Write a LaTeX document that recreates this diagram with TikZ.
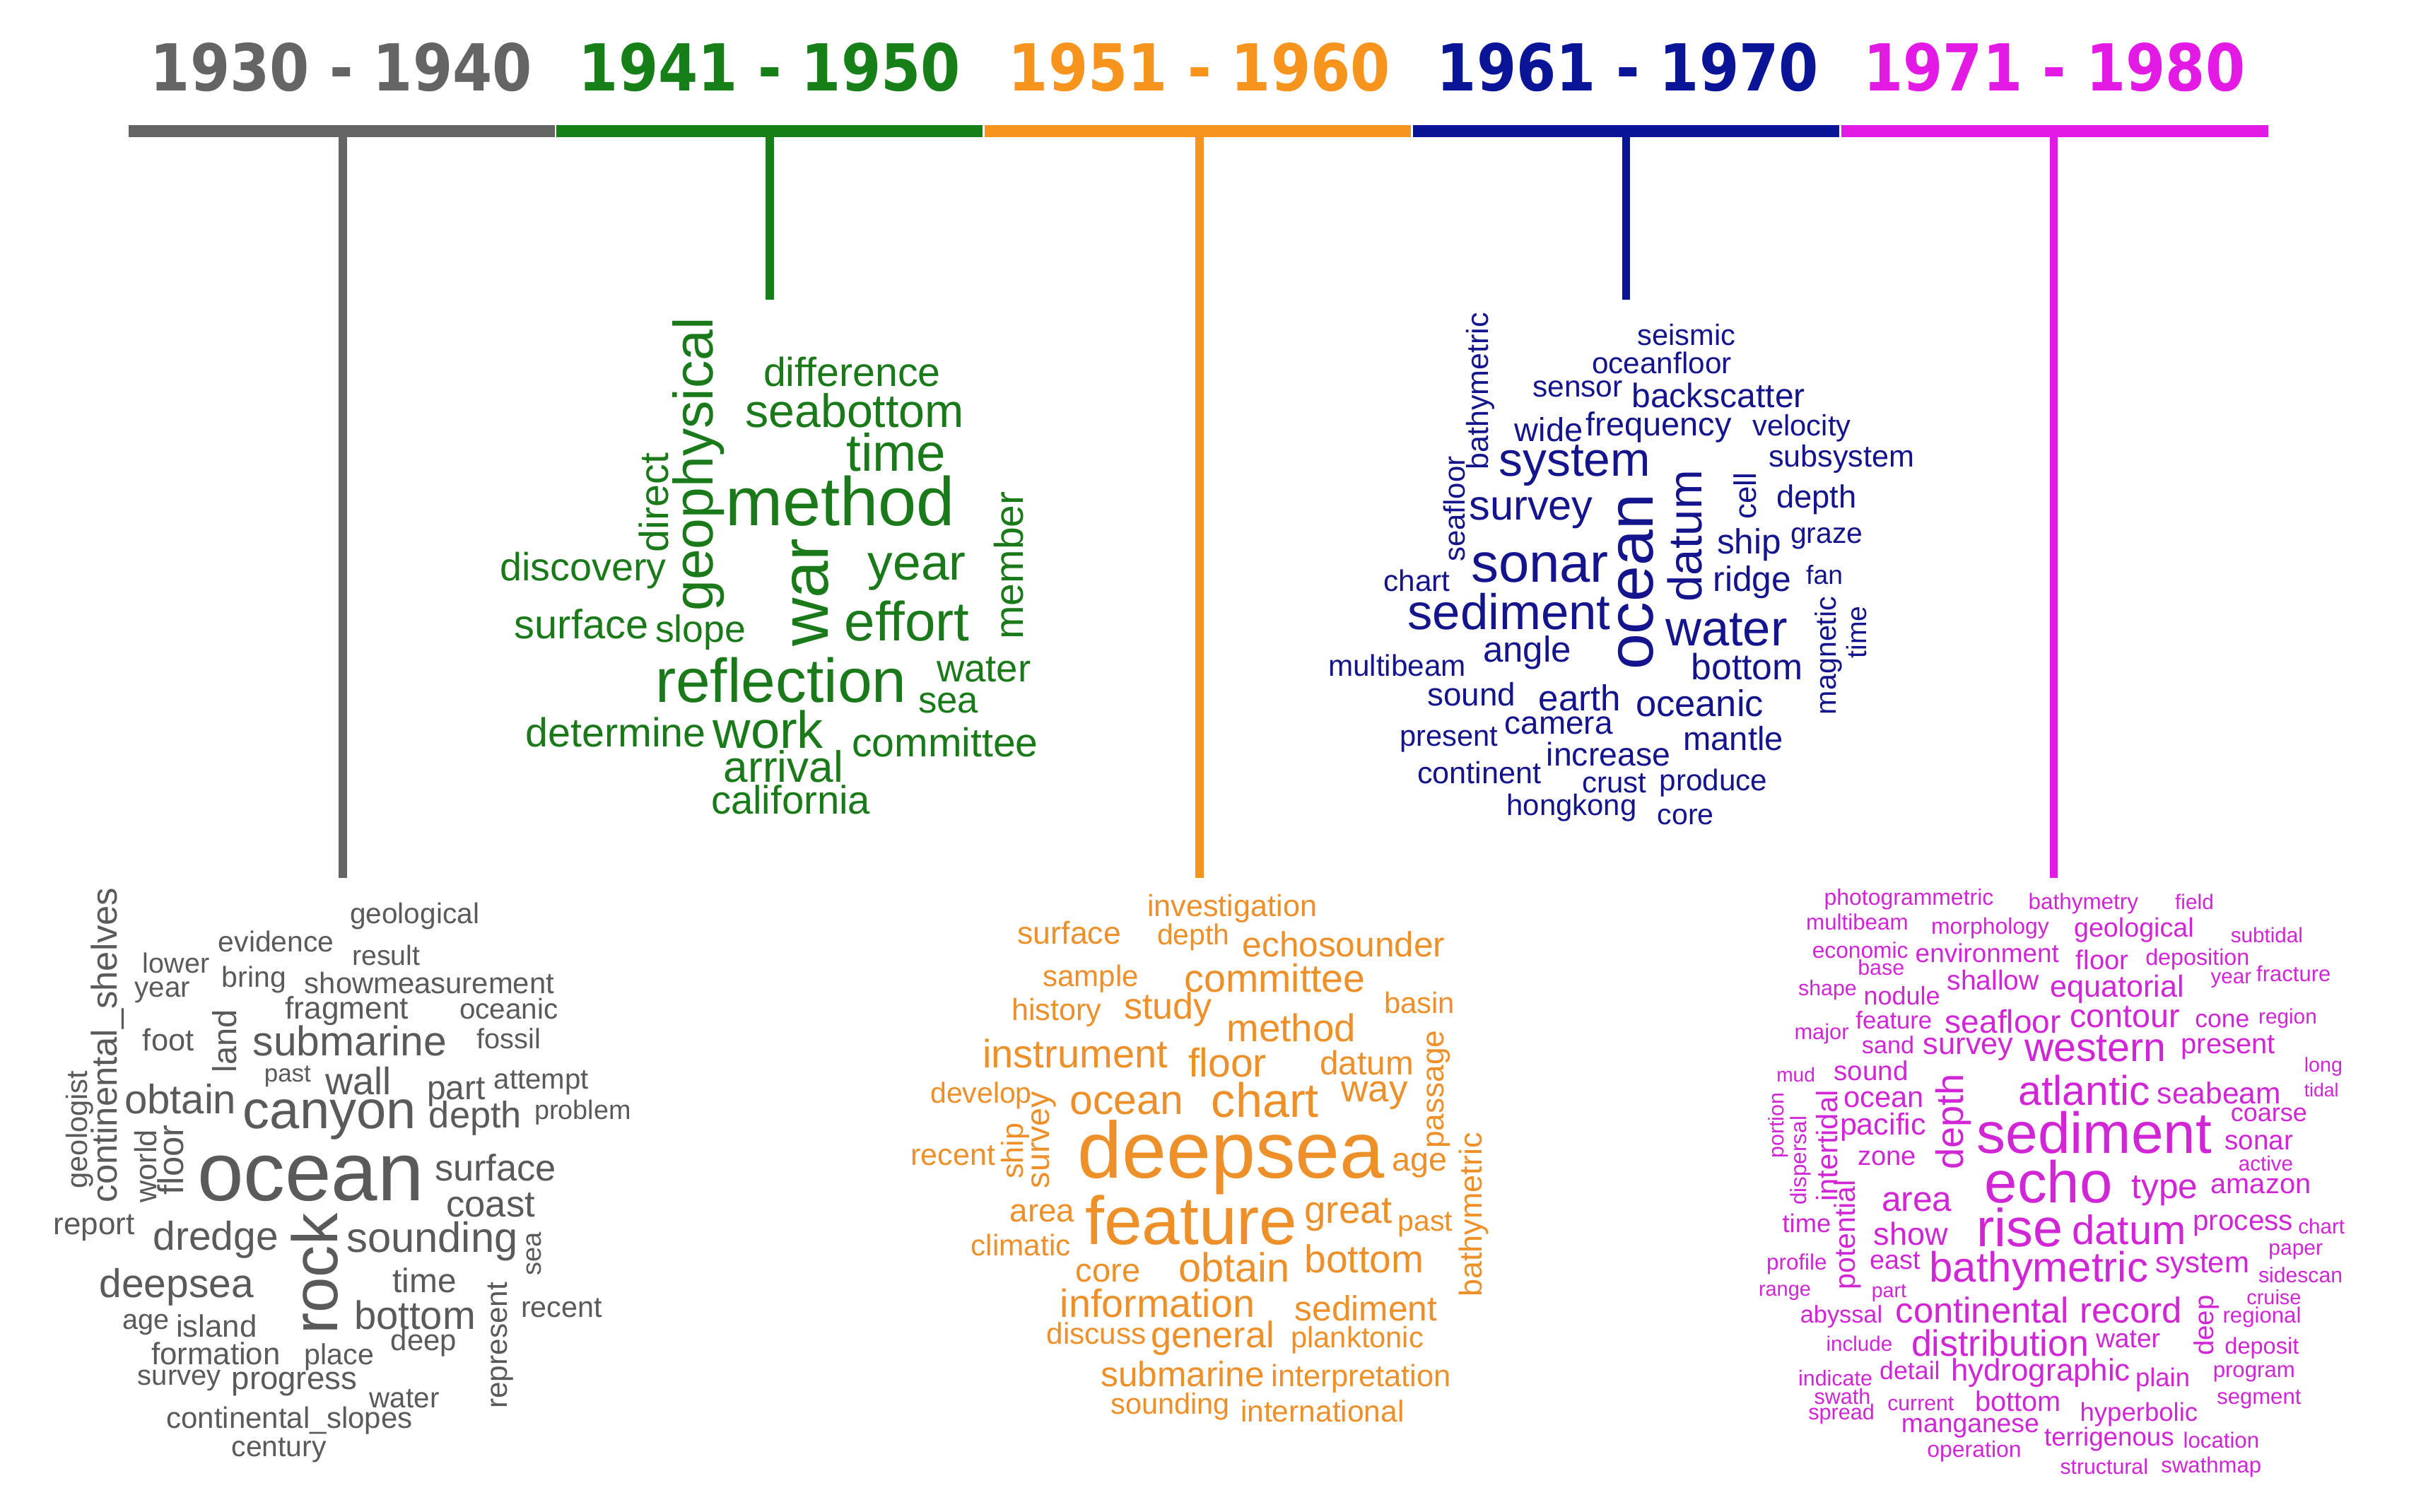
\documentclass[tikz,border=0pt]{standalone}
\usepackage{fontspec}
\usepackage{graphicx}
\newfontfamily\wordfont{Liberation Sans}
\newfontfamily\hdrfont{DejaVu Sans}
\definecolor{cgray}{HTML}{5A5A5A}
\definecolor{cgreen}{HTML}{1A7A1A}
\definecolor{corange}{HTML}{EE9029}
\definecolor{cblue}{HTML}{14148C}
\definecolor{cmag}{HTML}{D026D6}
\definecolor{bgray}{HTML}{646464}
\definecolor{bgreen}{HTML}{177F17}
\definecolor{borange}{HTML}{F7941D}
\definecolor{bblue}{HTML}{0A1496}
\definecolor{bmag}{HTML}{E31AE6}
\newlength\upx \setlength\upx{0.5pt}
\newcounter{wcnt}
\newcommand\wh[5]{\stepcounter{wcnt}\node[#1,anchor=base west] (w\arabic{wcnt}) at (#2+1,#3) {\resizebox{\dimexpr#4\upx-2\upx\relax}{!}{#5}};}
\newcommand\wv[5]{\stepcounter{wcnt}\node[#1,anchor=center,rotate=90] (w\arabic{wcnt}) at (#2,#3) {\resizebox{\dimexpr#4\upx-2\upx\relax}{!}{#5}};}
\tikzset{
  word/.style={inner sep=0pt,outer sep=0pt,font=\wordfont},
  gw/.style={word,text=cgray},
  nw/.style={word,text=cgreen},
  ow/.style={word,text=corange},
  bw/.style={word,text=cblue},
  mw/.style={word,text=cmag},
  hdr/.style={inner sep=0pt,outer sep=0pt,font=\hdrfont\bfseries,anchor=base west},
  barline/.style={line width=4pt},
  stem/.style={line width=2.6pt}
}
\begin{document}
\begin{tikzpicture}[x=0.5pt,y=-0.5pt]
\useasboundingbox (0,0) rectangle (1568,974);
\fill[white] (0,0) rectangle (1568,974);
% headers
\node[hdr,text=bgray] (h1) at (97,58.4) {\resizebox{246\upx}{31\upx}{1930 - 1940}};
\node[hdr,text=bgreen] (h2) at (373,58.4) {\resizebox{246\upx}{31\upx}{1941 - 1950}};
\node[hdr,text=borange] (h3) at (650,58.4) {\resizebox{246\upx}{31\upx}{1951 - 1960}};
\node[hdr,text=bblue] (h4) at (926,58.4) {\resizebox{246\upx}{31\upx}{1961 - 1970}};
\node[hdr,text=bmag] (h5) at (1201,58.4) {\resizebox{246\upx}{31\upx}{1971 - 1980}};
% timeline bar
\coordinate (b0) at (83,84.5);
\coordinate (b1) at (358,84.5);
\coordinate (b2) at (634,84.5);
\coordinate (b3) at (910,84.5);
\coordinate (b4) at (1186,84.5);
\coordinate (b5) at (1462,84.5);
\draw[barline,bgray,shorten >=0.3pt] (b0) -- (b1);
\draw[barline,bgreen,shorten <=0.3pt,shorten >=0.3pt] (b1) -- (b2);
\draw[barline,borange,shorten <=0.3pt,shorten >=0.3pt] (b2) -- (b3);
\draw[barline,bblue,shorten <=0.3pt,shorten >=0.3pt] (b3) -- (b4);
\draw[barline,bmag,shorten <=0.3pt] (b4) -- (b5);
% stems
\coordinate (t1) at (221,88); \coordinate (e1) at (221,566);
\coordinate (t2) at (496,88); \coordinate (e2) at (496,193);
\coordinate (t3) at (773,88); \coordinate (e3) at (773,566);
\coordinate (t4) at (1048,88); \coordinate (e4) at (1048,193);
\coordinate (t5) at (1323.5,88); \coordinate (e5) at (1323.5,566);
\draw[stem,bgray] (t1) -- (e1);
\draw[stem,bgreen] (t2) -- (e2);
\draw[stem,borange] (t3) -- (e3);
\draw[stem,bblue] (t4) -- (e4);
\draw[stem,bmag] (t5) -- (e5);
% ---------------- gray cloud
\wh{gw}{224.6}{595.3}{85.3}{geological}
\wh{gw}{139.7}{613.5}{76.5}{evidence}
\wh{gw}{226}{621.9}{45.8}{result}
\wh{gw}{91}{627.2}{45}{lower}
\wh{gw}{85.9}{642.4}{37.7}{year}
\wh{gw}{142}{636.3}{43.4}{bring}
\wh{gw}{195.3}{640.1}{162.9}{showmeasurement}
\wh{gw}{182.9}{656.8}{81.5}{fragment}
\wh{gw}{295.2}{656.8}{65.5}{oceanic}
\wh{gw}{91}{677.3}{35}{foot}
\wh{gw}{161.9}{680.3}{127.1}{submarine}
\wh{gw}{306.4}{675.8}{43.2}{fossil}
\wh{gw}{169.3}{697}{32.1}{past}
\wh{gw}{208.8}{705.4}{44.5}{wall}
\wh{gw}{274.3}{708.4}{39.5}{part}
\wh{gw}{317.4}{701.6}{63}{attempt}
\wh{gw}{79.2}{717.5}{74.1}{obtain}
\wh{gw}{155.7}{727.4}{113.6}{canyon}
\wh{gw}{275.5}{726.7}{61.7}{depth}
\wh{gw}{343.4}{721.3}{64.2}{problem}
\wh{gw}{126.1}{773.7}{148.2}{ocean}
\wh{gw}{279.2}{760.8}{80.3}{surface}
\wh{gw}{286.6}{784.4}{59.2}{coast}
\wh{gw}{33.5}{795.8}{54.3}{report}
\wh{gw}{97.7}{805.6}{82.7}{dredge}
\wh{gw}{222.3}{807.1}{112.5}{sounding}
\wh{gw}{63.1}{836}{101.3}{deepsea}
\wh{gw}{252}{833}{43.2}{time}
\wh{gw}{227.3}{856.5}{80.2}{bottom}
\wh{gw}{334.8}{848.9}{54.2}{recent}
\wh{gw}{77.9}{856.5}{32.1}{age}
\wh{gw}{112.5}{861.8}{54.2}{island}
\wh{gw}{250.8}{870.2}{44.4}{deep}
\wh{gw}{96.5}{879.3}{85.2}{formation}
\wh{gw}{195.3}{879.3}{46.8}{place}
\wh{gw}{87.8}{892.5}{55.6}{survey}
\wh{gw}{148.3}{895.2}{82.8}{progress}
\wh{gw}{237.2}{907.4}{46.9}{water}
\wh{gw}{106.3}{920.3}{160.5}{continental\_slopes}
\wh{gw}{148.3}{938.8}{63}{century}
\wv{gw}{69.3}{673.5}{205}{continental\_shelves}
\wv{gw}{51.4}{728}{78}{geologist}
\wv{gw}{94}{751.5}{49}{world}
\wv{gw}{110}{747.5}{47}{floor}
\wv{gw}{144.5}{671}{42.5}{land}
\wv{gw}{202.6}{821}{80}{rock}
\wv{gw}{344}{808}{30}{sea}
\wv{gw}{322.4}{867}{83.5}{represent}
% ---------------- green cloud
\wh{nw}{491}{249}{116.2}{difference}
\wh{nw}{479.3}{275.6}{143}{seabottom}
\wh{nw}{544.4}{303.7}{66.3}{time}
\wh{nw}{466.5}{338.6}{149.9}{method}
\wh{nw}{558.4}{373.6}{65.1}{year}
\wh{nw}{321.3}{374.3}{109.2}{discovery}
\wh{nw}{543.3}{413}{82.5}{effort}
\wh{nw}{330.6}{411.5}{88.4}{surface}
\wh{nw}{421.3}{413.8}{60.4}{slope}
\wh{nw}{421.3}{452.5}{163.9}{reflection}
\wh{nw}{602.6}{439.6}{62.7}{water}
\wh{nw}{590.9}{459.4}{40.7}{sea}
\wh{nw}{337.6}{481.4}{118.4}{determine}
\wh{nw}{458.5}{482.2}{73.2}{work}
\wh{nw}{548}{487.5}{122}{committee}
\wh{nw}{465.4}{504.2}{79}{arrival}
\wh{nw}{457.3}{524.7}{104.6}{california}
\wv{nw}{450.2}{299.2}{191.3}{geophysical}
\wv{nw}{421.2}{323.9}{66}{direct}
\wv{nw}{650.1}{364.4}{97.3}{member}
\wv{nw}{522.3}{381.8}{71.6}{war}
% ---------------- orange cloud
\wh{ow}{738.5}{590.7}{111.2}{investigation}
\wh{ow}{654.8}{608.2}{68.7}{surface}
\wh{ow}{744.8}{609}{48.7}{depth}
\wh{ow}{799.8}{616.6}{132.4}{echosounder}
\wh{ow}{671}{635.5}{63.8}{sample}
\wh{ow}{762.3}{639.3}{118.7}{committee}
\wh{ow}{891}{653}{47.5}{basin}
\wh{ow}{651}{657.5}{60}{history}
\wh{ow}{723.5}{656.8}{58.7}{study}
\wh{ow}{789.7}{671.2}{85}{method}
\wh{ow}{632.3}{688}{121.3}{instrument}
\wh{ow}{764.8}{694}{52.5}{floor}
\wh{ow}{849.7}{692.5}{62.4}{datum}
\wh{ow}{598.6}{711}{67.4}{develop}
\wh{ow}{688.6}{718.3}{75}{ocean}
\wh{ow}{779.8}{719.8}{71.2}{chart}
\wh{ow}{863.5}{710}{44.9}{way}
\wh{ow}{586}{751}{56.4}{recent}
\wh{ow}{693.5}{759.3}{199.9}{deepsea}
\wh{ow}{896}{754.8}{37.5}{age}
\wh{ow}{649.8}{787.4}{43.7}{area}
\wh{ow}{698.5}{801.8}{138.7}{feature}
\wh{ow}{839.7}{788.2}{58.7}{great}
\wh{ow}{899.8}{793.5}{37.3}{past}
\wh{ow}{624.8}{809.4}{66.2}{climatic}
\wh{ow}{692.3}{826.1}{43.7}{core}
\wh{ow}{758.5}{826.1}{73.7}{obtain}
\wh{ow}{839.7}{820}{78.8}{bottom}
\wh{ow}{682.3}{848.9}{127.4}{information}
\wh{ow}{833.5}{851.2}{93.7}{sediment}
\wh{ow}{673.5}{866.4}{66.3}{discuss}
\wh{ow}{741}{868.7}{81.2}{general}
\wh{ow}{831}{868.7}{87.5}{planktonic}
\wh{ow}{708.4}{893.7}{107.6}{submarine}
\wh{ow}{818.5}{893.7}{117.5}{interpretation}
\wh{ow}{714.8}{911.2}{78.7}{sounding}
\wh{ow}{798.5}{916.5}{107.5}{international}
\wv{ow}{927.2}{702}{78.2}{passage}
\wv{ow}{672.9}{734.6}{64.5}{survey}
\wv{ow}{654.5}{741.8}{38}{ship}
\wv{ow}{949.8}{782.9}{107.8}{bathymetric}
% ---------------- blue cloud
\wh{bw}{1054.4}{222.5}{65.2}{seismic}
\wh{bw}{1025}{240.7}{92}{oceanfloor}
\wh{bw}{986.7}{255.9}{60.1}{sensor}
\wh{bw}{1050.6}{262.7}{113.8}{backscatter}
\wh{bw}{975.2}{284.7}{46}{wide}
\wh{bw}{1021.2}{280.9}{95.8}{frequency}
\wh{bw}{1128.6}{280.9}{65.2}{velocity}
\wh{bw}{965}{306.7}{99.7}{system}
\wh{bw}{1138.8}{300.7}{95.9}{subsystem}
\wh{bw}{1144}{327.3}{53.6}{depth}
\wh{bw}{945.8}{334.9}{81.8}{survey}
\wh{bw}{1105.6}{356.9}{43.4}{ship}
\wh{bw}{1152.9}{350}{48.6}{graze}
\wh{bw}{947}{375.1}{90.8}{sonar}
\wh{bw}{890.8}{381.2}{44.8}{chart}
\wh{bw}{1103}{381.2}{52.4}{ridge}
\wh{bw}{1163}{376.6}{25.6}{fan}
\wh{bw}{906.2}{405.5}{132.8}{sediment}
\wh{bw}{1072.3}{416.1}{80.6}{water}
\wh{bw}{855}{435.8}{90.8}{multibeam}
\wh{bw}{954.8}{426.7}{58.8}{angle}
\wh{bw}{1089}{438.1}{74}{bottom}
\wh{bw}{918.9}{454.8}{58.8}{sound}
\wh{bw}{990.6}{457.9}{55}{earth}
\wh{bw}{1053.2}{461.6}{84.4}{oceanic}
\wh{bw}{968.8}{473}{71.6}{camera}
\wh{bw}{901}{480.6}{65.3}{present}
\wh{bw}{1083.9}{483.7}{66.4}{mantle}
\wh{bw}{995.7}{493.5}{81.8}{increase}
\wh{bw}{912.5}{504.9}{81.9}{continent}
\wh{bw}{1018.7}{511}{43.4}{crust}
\wh{bw}{1068.5}{509.5}{71.5}{produce}
\wh{bw}{970}{525.4}{85.8}{hongkong}
\wh{bw}{1067.2}{531.5}{38.4}{core}
\wv{bw}{954.1}{252.1}{103.2}{bathymetric}
\wv{bw}{937.5}{328}{70}{seafloor}
\wv{bw}{1054.5}{375.1}{115.4}{ocean}
\wv{bw}{1085.8}{345.4}{86.8}{datum}
\wv{bw}{1124.7}{319.7}{32}{cell}
\wv{bw}{1178.5}{422.5}{78.2}{magnetic}
\wv{bw}{1196.4}{407.4}{35.7}{time}
% ---------------- magenta cloud
\wh{mw}{1174.6}{583.1}{111.2}{photogrammetric}
\wh{mw}{1306.2}{586.2}{72.9}{bathymetry}
\wh{mw}{1400.8}{586.2}{26.9}{field}
\wh{mw}{1163}{599.1}{67.8}{multibeam}
\wh{mw}{1243.6}{602.1}{78}{morphology}
\wh{mw}{1335.6}{603.6}{79.3}{geological}
\wh{mw}{1436.6}{607.4}{48.6}{subtidal}
\wh{mw}{1166.9}{617.3}{63.9}{economic}
\wh{mw}{1233.4}{620.4}{94.6}{environment}
\wh{mw}{1336.9}{624.9}{35.8}{floor}
\wh{mw}{1381.7}{621.9}{69}{deposition}
\wh{mw}{1196.3}{628.5}{32}{base}
\wh{mw}{1423.8}{634}{28.2}{year}
\wh{mw}{1453.2}{632.5}{49.9}{fracture}
\wh{mw}{1253.8}{637.8}{61.4}{shallow}
\wh{mw}{1320.3}{642.4}{88.2}{equatorial}
\wh{mw}{1158}{641.6}{39.6}{shape}
\wh{mw}{1200.1}{647.7}{51.2}{nodule}
\wh{mw}{1195}{662.9}{51.1}{feature}
\wh{mw}{1252.6}{665.9}{76.6}{seafloor}
\wh{mw}{1333}{662.1}{72.9}{contour}
\wh{mw}{1413.6}{662.1}{37.1}{cone}
\wh{mw}{1454.5}{659.8}{39.7}{region}
\wh{mw}{1155.4}{669.7}{37.1}{major}
\wh{mw}{1198.9}{678.8}{35.8}{sand}
\wh{mw}{1238.5}{679.6}{60.1}{survey}
\wh{mw}{1303.7}{684.1}{93.3}{western}
\wh{mw}{1404.6}{678.8}{62.7}{present}
\wh{mw}{1143.9}{697}{26.9}{mud}
\wh{mw}{1181}{696.3}{49.8}{sound}
\wh{mw}{1484}{691}{26.7}{long}
\wh{mw}{1484}{706.9}{24.2}{tidal}
\wh{mw}{1299.9}{712.2}{86.9}{atlantic}
\wh{mw}{1389.3}{711.5}{81.8}{seabeam}
\wh{mw}{1187.4}{713.7}{53.6}{ocean}
\wh{mw}{1184.8}{731.2}{57.6}{pacific}
\wh{mw}{1196.3}{751}{39.7}{zone}
\wh{mw}{1273}{743.4}{153.4}{sediment}
\wh{mw}{1436.6}{722.9}{51.2}{coarse}
\wh{mw}{1432.8}{741.1}{46}{sonar}
\wh{mw}{1441.7}{754.8}{37.1}{active}
\wh{mw}{1278.1}{775.3}{84.4}{echo}
\wh{mw}{1372.7}{772.2}{44.7}{type}
\wh{mw}{1423.8}{769.2}{66.5}{amazon}
\wh{mw}{1211.7}{780.5}{47.3}{area}
\wh{mw}{1147.7}{794.2}{33.3}{time}
\wh{mw}{1206.5}{802.6}{49.9}{show}
\wh{mw}{1273}{803.3}{57.5}{rise}
\wh{mw}{1334.4}{801.8}{75.4}{datum}
\wh{mw}{1412.3}{792.7}{66.5}{process}
\wh{mw}{1480.1}{795}{32}{chart}
\wh{mw}{1461}{808.7}{37}{paper}
\wh{mw}{1137.5}{818.5}{40.9}{profile}
\wh{mw}{1204}{817.8}{34.5}{east}
\wh{mw}{1242.4}{826}{143}{bathymetric}
\wh{mw}{1388}{820}{62.7}{system}
\wh{mw}{1454.5}{826.5}{56.2}{sidescan}
\wh{mw}{1132.4}{835.2}{35.7}{range}
\wh{mw}{1205.2}{836}{24.4}{part}
\wh{mw}{1446.9}{840.5}{37.1}{cruise}
\wh{mw}{1159.2}{852.7}{55}{abyssal}
\wh{mw}{1220.6}{852.7}{113.8}{continental}
\wh{mw}{1339.5}{852.7}{67.7}{record}
\wh{mw}{1431.5}{852.7}{52.5}{regional}
\wh{mw}{1175.9}{870.9}{44.7}{include}
\wh{mw}{1230.8}{873.9}{116.4}{distribution}
\wh{mw}{1349.7}{868.7}{43.5}{water}
\wh{mw}{1432.8}{872.4}{49.8}{deposit}
\wh{mw}{1158}{892.9}{49.7}{indicate}
\wh{mw}{1210.4}{889.1}{40.9}{detail}
\wh{mw}{1256.4}{889.9}{117.6}{hydrographic}
\wh{mw}{1375.2}{893.7}{37.1}{plain}
\wh{mw}{1425.2}{887.6}{54.9}{program}
\wh{mw}{1168.2}{905.1}{38.3}{swath}
\wh{mw}{1215.5}{908.9}{44.7}{current}
\wh{mw}{1271.8}{909.7}{57.4}{bottom}
\wh{mw}{1427.7}{905.1}{56.3}{segment}
\wh{mw}{1164.4}{915}{44.7}{spread}
\wh{mw}{1339.5}{915.7}{77.9}{hyperbolic}
\wh{mw}{1224.4}{923.3}{90.8}{manganese}
\wh{mw}{1316.5}{931.7}{85.6}{terrigenous}
\wh{mw}{1406}{933.2}{51}{location}
\wh{mw}{1241}{939.3}{62.7}{operation}
\wh{mw}{1326.7}{949.9}{58.7}{structural}
\wh{mw}{1391.8}{949.1}{66.6}{swathmap}
\wv{mw}{1258.9}{722.9}{63.8}{depth}
\wv{mw}{1145.8}{725.2}{44.1}{portion}
\wv{mw}{1160.5}{747.9}{59.2}{dispersal}
\wv{mw}{1177.2}{738.5}{73.7}{intertidal}
\wv{mw}{1190.6}{795.8}{72.9}{potential}
\wv{mw}{1422}{854.2}{41}{deep}
\end{tikzpicture}
\end{document}
